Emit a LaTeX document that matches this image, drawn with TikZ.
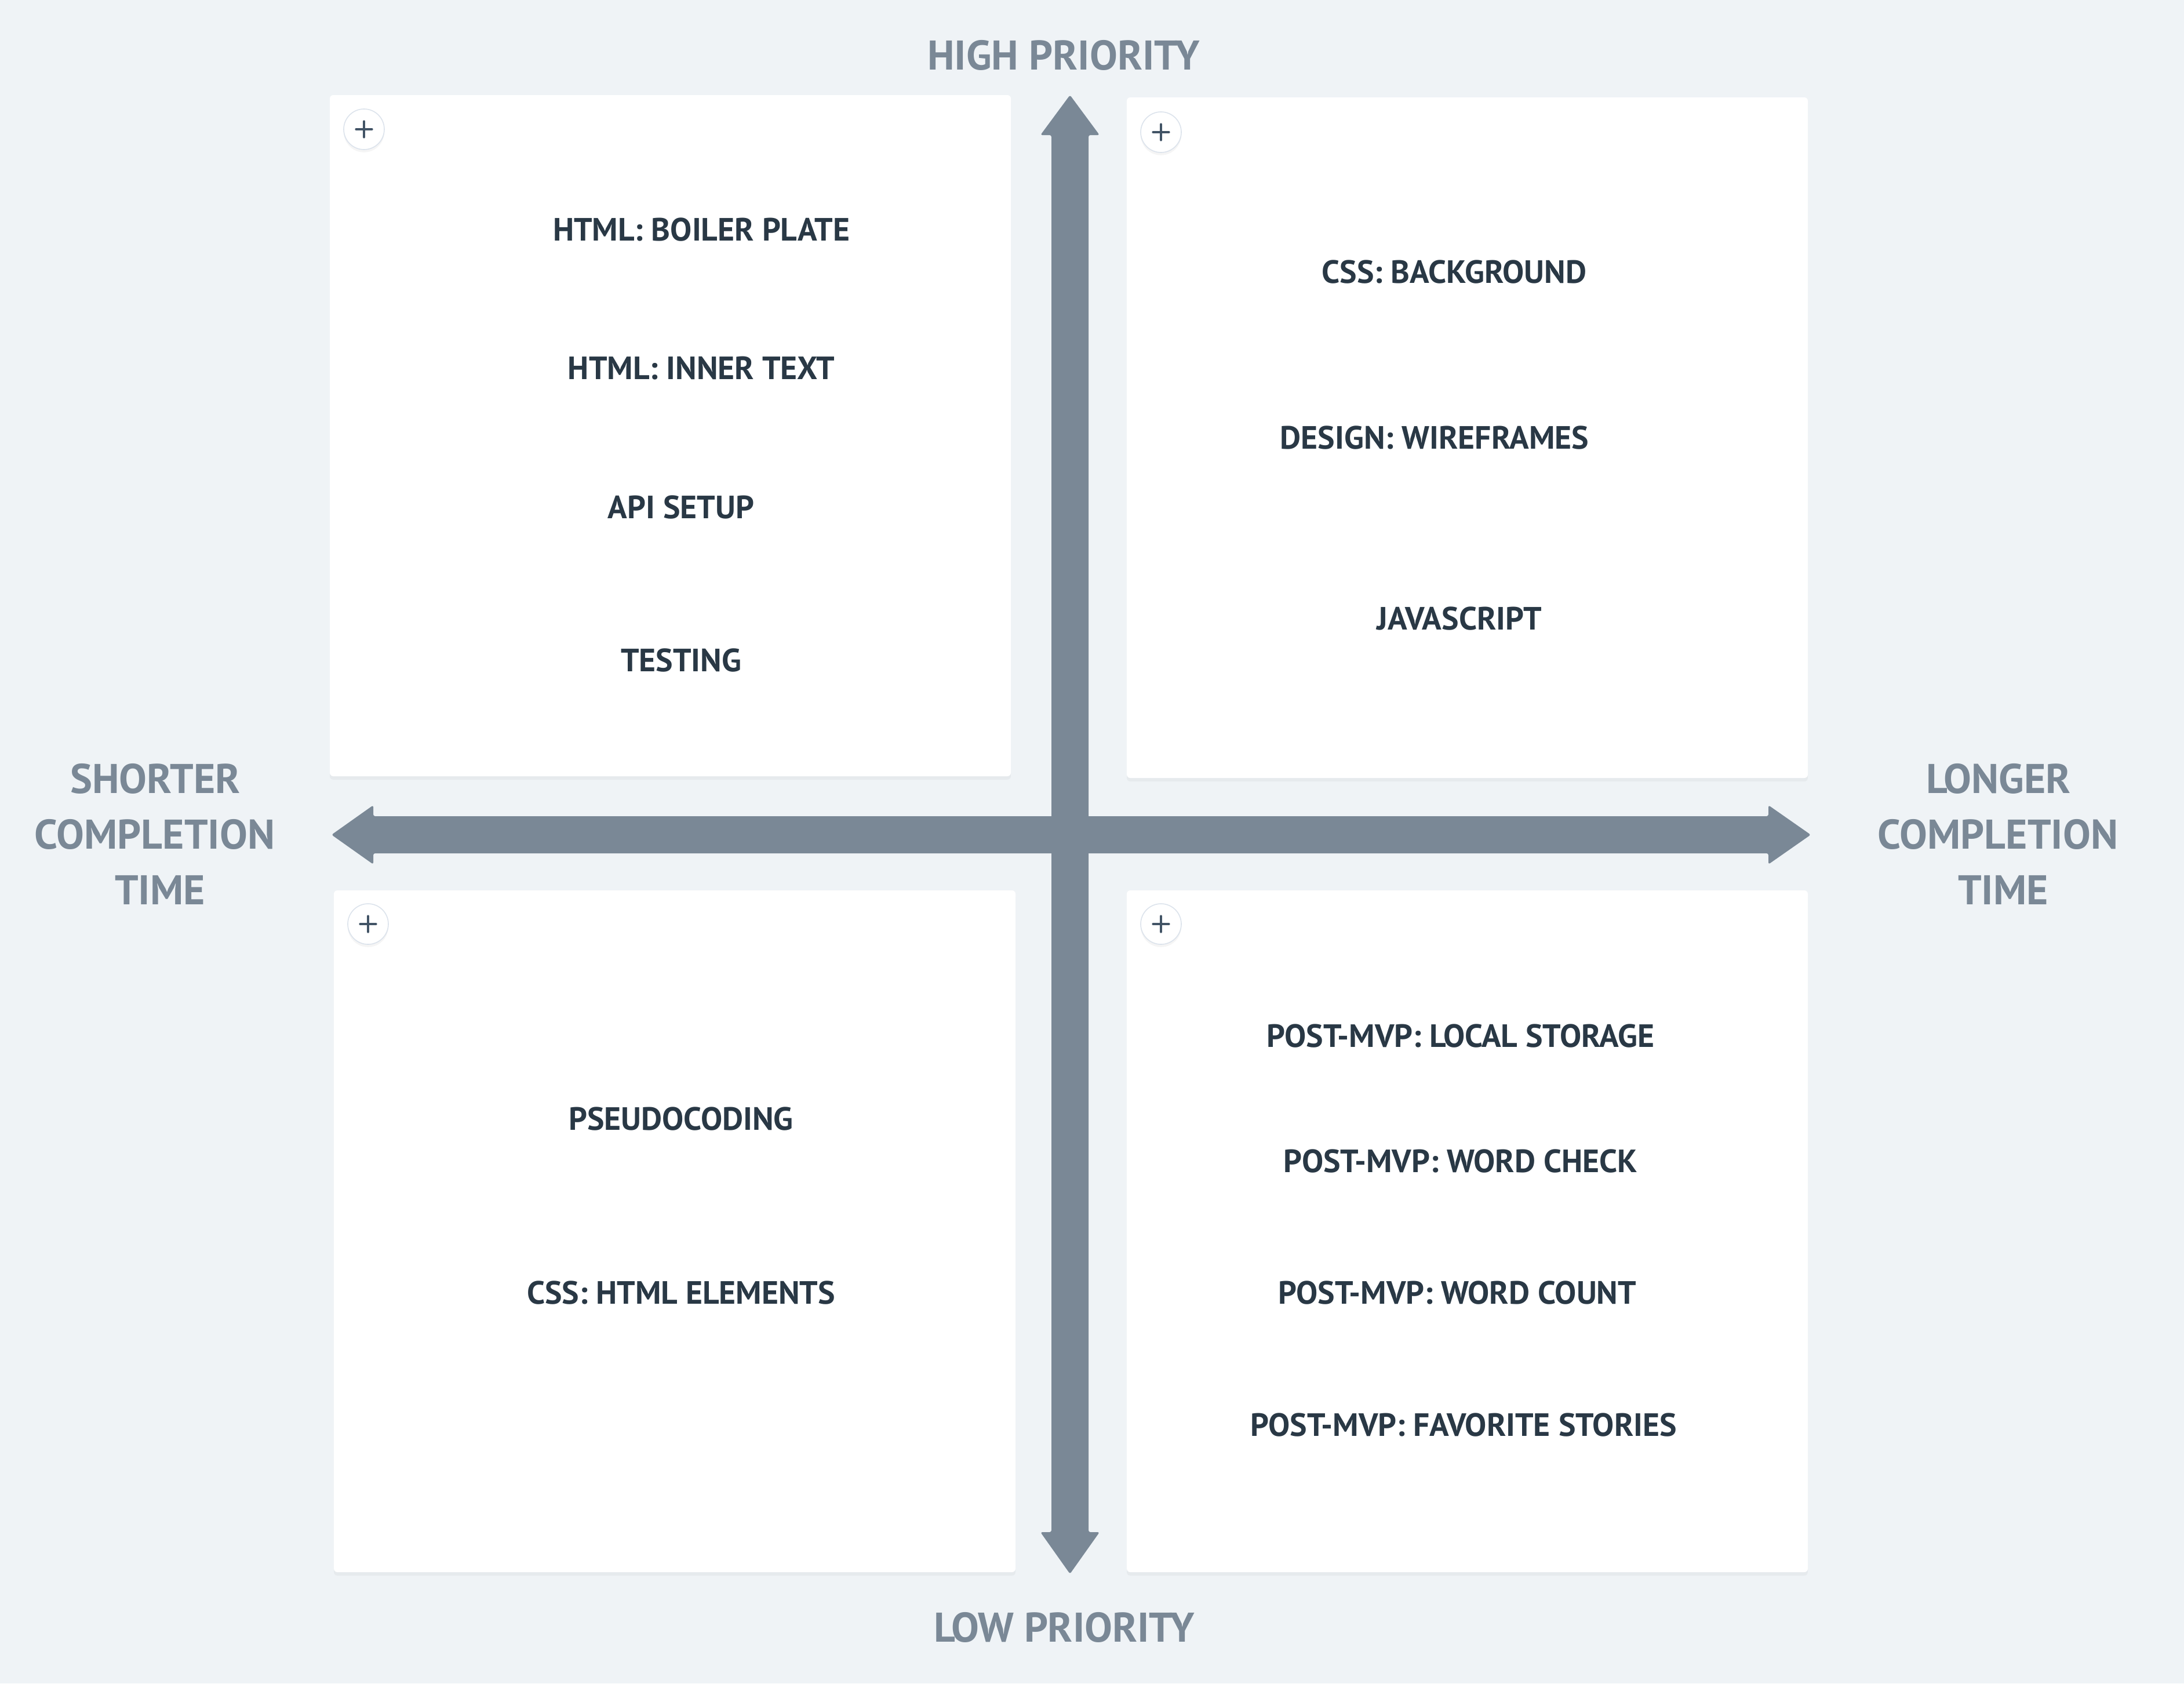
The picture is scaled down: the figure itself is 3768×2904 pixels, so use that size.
\documentclass[tikz,border=0pt]{standalone}
\usepackage{fontspec}
\setmainfont{PT Sans}
\usetikzlibrary{shadows}
\definecolor{bg}{HTML}{EFF3F6}
\definecolor{axisc}{HTML}{7A8896}
\definecolor{ink}{HTML}{293845}
\definecolor{ringc}{HTML}{DCE3EC}
\definecolor{plusc}{HTML}{425466}
\tikzset{
  card/.style={fill=white, draw=none, rounded corners=1.5pt, inner sep=0pt,
    drop shadow={fill=black, opacity=0.035, shadow xshift=0pt, shadow yshift=-1.5pt}},
  item/.style={anchor=base, text=ink, inner sep=0pt, font=\bfseries\fontsize{13.9}{16}\selectfont},
  axislabel/.style={anchor=base, text=axisc, inner sep=0pt, font=\bfseries\fontsize{17.9}{20}\selectfont},
  plusbtn/.style={circle, fill=white, draw=ringc, line width=0.4pt, minimum size=17.5pt, inner sep=0pt,
    drop shadow={fill=black, opacity=0.04, shadow xshift=0pt, shadow yshift=-1.2pt},
    path picture={
      \draw[plusc, line width=1pt, line cap=round]
        ([xshift=-3.4pt]path picture bounding box.center) -- ([xshift=3.4pt]path picture bounding box.center)
        ([yshift=-3.4pt]path picture bounding box.center) -- ([yshift=3.4pt]path picture bounding box.center);
    }},
  bigarrow/.style={fill=axisc, rounded corners=0.8pt}
}
\begin{document}
\begin{tikzpicture}[x=0.25pt, y=-0.25pt]
\useasboundingbox (0,0) rectangle (3768,2904);
\fill[bg] (0,0) rectangle (3768,2904);

% quadrant cards
\node[card, minimum width=293.75pt, minimum height=293.75pt] (q1) at (1156.5,751.5) {};
\node[card, minimum width=293.75pt, minimum height=293.5pt] (q2) at (2531.5,755) {};
\node[card, minimum width=294pt, minimum height=294pt] (q3) at (1164,2124) {};
\node[card, minimum width=293.75pt, minimum height=294pt] (q4) at (2531.5,2124) {};

% axes
\fill[bigarrow] (1846,164) -- (1897,233) -- (1878,233) -- (1878,2643) -- (1897,2643)
  -- (1846,2715) -- (1795,2643) -- (1814,2643) -- (1814,233) -- (1795,233) -- cycle;
\fill[bigarrow] (572,1440) -- (644,1389) -- (644,1408) -- (3051,1408) -- (3051,1389)
  -- (3124,1440) -- (3051,1491) -- (3051,1472) -- (644,1472) -- (644,1491) -- cycle;

% plus buttons
\node[plusbtn] (p1) at (628,223) {};
\node[plusbtn] (p2) at (2003,228) {};
\node[plusbtn] (p3) at (635,1594) {};
\node[plusbtn] (p4) at (2003,1594) {};

% axis labels
\node[axislabel] (high) at (1835,120) {HIGH PRIORITY};
\node[axislabel] (low) at (1836,2832) {LOW PRIORITY};
\node[axislabel] (s1) at (268,1368) {SHORTER};
\node[axislabel] (s2) at (267,1464) {COMPLETION};
\node[axislabel] (s3) at (276,1560) {TIME};
\node[axislabel] (l1) at (3448,1368) {LONGER};
\node[axislabel] (l2) at (3447,1464) {COMPLETION};
\node[axislabel] (l3) at (3456,1560) {TIME};

% items
\node[item] (a1) at (1210,415) {HTML: BOILER PLATE};
\node[item] (a2) at (1210,654) {HTML: INNER TEXT};
\node[item] (a3) at (1175,894) {API SETUP};
\node[item] (a4) at (1175,1158) {TESTING};
\node[item] (b1) at (2509,488) {CSS: BACKGROUND};
\node[item] (b2) at (2475,774) {DESIGN: WIREFRAMES};
\node[item] (b3) at (2518,1086) {JAVASCRIPT};
\node[item] (c1) at (1175,1949) {PSEUDOCODING};
\node[item] (c2) at (1175,2249) {CSS: HTML ELEMENTS};
\node[item] (d1) at (2520,1806) {POST-MVP: LOCAL STORAGE};
\node[item] (d2) at (2520,2022) {POST-MVP: WORD CHECK};
\node[item] (d3) at (2514,2249) {POST-MVP: WORD COUNT};
\node[item] (d4) at (2525,2477) {POST-MVP: FAVORITE STORIES};
\end{tikzpicture}
\end{document}
